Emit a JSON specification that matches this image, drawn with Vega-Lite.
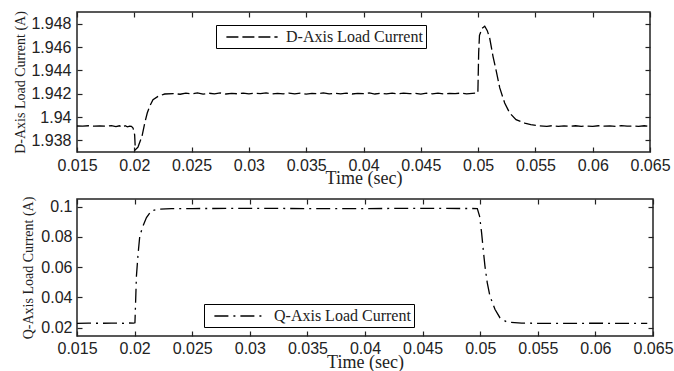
{
  "$schema": "https://vega.github.io/schema/vega-lite/v6.json",
  "background": "white",
  "padding": {"left": 13, "top": 9, "right": 5, "bottom": 0},
  "spacing": 7,
  "resolve": {"scale": {"strokeDash": "independent", "x": "independent", "y": "independent"}, "legend": {"strokeDash": "independent"}},
  "config": {
    "view": {"stroke": "#222", "strokeWidth": 1.5},
    "axis": {"grid": false, "domain": false, "tickColor": "#222", "tickSize": -5, "tickWidth": 1.2, "labelFont": "Liberation Sans", "labelFontSize": 16, "labelColor": "#222", "titleFont": "Liberation Serif", "titleFontWeight": "normal", "titleColor": "#222", "labelFlush": false, "labelOverlap": false},
    "legend": {"orient": "none", "strokeColor": "black", "fillColor": "white", "padding": 3, "symbolType": "M-3.2,0H3.2", "symbolStrokeColor": "black", "symbolStrokeWidth": 1.3, "symbolSize": 256, "symbolOffset": 24, "labelOffset": 25, "labelFont": "Liberation Serif", "labelFontSize": 16, "labelColor": "#222", "title": null, "cornerRadius": 0}
  },
  "datasets": {
    "d": [
      {"t": 0.0150, "i": 1.93923}, {"t": 0.0155, "i": 1.93922}, {"t": 0.0160, "i": 1.93925}, {"t": 0.0165, "i": 1.93921},
      {"t": 0.0170, "i": 1.93924}, {"t": 0.0175, "i": 1.93922}, {"t": 0.0180, "i": 1.93926}, {"t": 0.0184, "i": 1.93918},
      {"t": 0.0187, "i": 1.93925}, {"t": 0.0190, "i": 1.93912}, {"t": 0.0192, "i": 1.93925}, {"t": 0.0194, "i": 1.93915},
      {"t": 0.0196, "i": 1.93922}, {"t": 0.01975, "i": 1.93920}, {"t": 0.01989, "i": 1.93906}, {"t": 0.02003, "i": 1.93848},
      {"t": 0.02009, "i": 1.93719}, {"t": 0.02032, "i": 1.93742}, {"t": 0.02067, "i": 1.93834}, {"t": 0.02091, "i": 1.93948},
      {"t": 0.02113, "i": 1.94034}, {"t": 0.02134, "i": 1.94092}, {"t": 0.02163, "i": 1.94148}, {"t": 0.02207, "i": 1.94177},
      {"t": 0.02265, "i": 1.94197}, {"t": 0.0234, "i": 1.94201}, {"t": 0.0240, "i": 1.94195}, {"t": 0.0245, "i": 1.94205},
      {"t": 0.0250, "i": 1.94198}, {"t": 0.0255, "i": 1.94206}, {"t": 0.0260, "i": 1.94196}, {"t": 0.0265, "i": 1.94204},
      {"t": 0.0270, "i": 1.94199}, {"t": 0.0275, "i": 1.94207}, {"t": 0.0280, "i": 1.94197}, {"t": 0.0285, "i": 1.94203},
      {"t": 0.0290, "i": 1.94199}, {"t": 0.0295, "i": 1.94205}, {"t": 0.0300, "i": 1.94198}, {"t": 0.0305, "i": 1.94204},
      {"t": 0.0310, "i": 1.94200}, {"t": 0.0315, "i": 1.94206}, {"t": 0.0320, "i": 1.94197}, {"t": 0.0325, "i": 1.94203},
      {"t": 0.0330, "i": 1.94198}, {"t": 0.0335, "i": 1.94205}, {"t": 0.0340, "i": 1.94199}, {"t": 0.0345, "i": 1.94204},
      {"t": 0.0350, "i": 1.94196}, {"t": 0.0355, "i": 1.94203}, {"t": 0.0360, "i": 1.94200}, {"t": 0.0365, "i": 1.94207},
      {"t": 0.0370, "i": 1.94198}, {"t": 0.0375, "i": 1.94204}, {"t": 0.0380, "i": 1.94199}, {"t": 0.0385, "i": 1.94205},
      {"t": 0.0390, "i": 1.94197}, {"t": 0.0395, "i": 1.94203}, {"t": 0.0400, "i": 1.94200}, {"t": 0.0405, "i": 1.94206},
      {"t": 0.0410, "i": 1.94197}, {"t": 0.0415, "i": 1.94203}, {"t": 0.0420, "i": 1.94199}, {"t": 0.0425, "i": 1.94205},
      {"t": 0.0430, "i": 1.94198}, {"t": 0.0435, "i": 1.94204}, {"t": 0.0440, "i": 1.94200}, {"t": 0.0445, "i": 1.94203},
      {"t": 0.0450, "i": 1.94196}, {"t": 0.0455, "i": 1.94204}, {"t": 0.0460, "i": 1.94199}, {"t": 0.0465, "i": 1.94205},
      {"t": 0.0470, "i": 1.94198}, {"t": 0.0475, "i": 1.94203}, {"t": 0.0480, "i": 1.94200}, {"t": 0.0485, "i": 1.94205},
      {"t": 0.0490, "i": 1.94199}, {"t": 0.0495, "i": 1.94203}, {"t": 0.04998, "i": 1.94206}, {"t": 0.05005, "i": 1.94550},
      {"t": 0.05012, "i": 1.94700}, {"t": 0.05035, "i": 1.94760}, {"t": 0.05058, "i": 1.94778}, {"t": 0.05080, "i": 1.94740},
      {"t": 0.05101, "i": 1.94677}, {"t": 0.05130, "i": 1.94520}, {"t": 0.05159, "i": 1.94392}, {"t": 0.05189, "i": 1.94249},
      {"t": 0.05232, "i": 1.94120}, {"t": 0.05276, "i": 1.94034}, {"t": 0.05331, "i": 1.93977}, {"t": 0.05407, "i": 1.93948},
      {"t": 0.05460, "i": 1.93935}, {"t": 0.05523, "i": 1.93925}, {"t": 0.0560, "i": 1.93920}, {"t": 0.0565, "i": 1.93926},
      {"t": 0.0570, "i": 1.93919}, {"t": 0.0575, "i": 1.93924}, {"t": 0.0580, "i": 1.93921}, {"t": 0.0585, "i": 1.93925},
      {"t": 0.0590, "i": 1.93920}, {"t": 0.0595, "i": 1.93923}, {"t": 0.0600, "i": 1.93919}, {"t": 0.0605, "i": 1.93925},
      {"t": 0.0610, "i": 1.93921}, {"t": 0.0615, "i": 1.93924}, {"t": 0.0620, "i": 1.93920}, {"t": 0.0625, "i": 1.93926},
      {"t": 0.0630, "i": 1.93921}, {"t": 0.0635, "i": 1.93923}, {"t": 0.0640, "i": 1.93919}, {"t": 0.0645, "i": 1.93925},
      {"t": 0.0648, "i": 1.93922}
    ],
    "q": [
      {"t": 0.0150, "i": 0.0229}, {"t": 0.0160, "i": 0.0230}, {"t": 0.0170, "i": 0.0229}, {"t": 0.0180, "i": 0.0230},
      {"t": 0.0190, "i": 0.0229}, {"t": 0.0195, "i": 0.0231}, {"t": 0.0199, "i": 0.0230}, {"t": 0.02003, "i": 0.0232},
      {"t": 0.02016, "i": 0.0542}, {"t": 0.0203, "i": 0.0685}, {"t": 0.02045, "i": 0.0806}, {"t": 0.02073, "i": 0.0872},
      {"t": 0.02103, "i": 0.0927}, {"t": 0.02146, "i": 0.0972}, {"t": 0.02203, "i": 0.0983}, {"t": 0.0232, "i": 0.0987},
      {"t": 0.0250, "i": 0.0987}, {"t": 0.0300, "i": 0.0988}, {"t": 0.0350, "i": 0.0987}, {"t": 0.0400, "i": 0.0987},
      {"t": 0.0450, "i": 0.0988}, {"t": 0.04975, "i": 0.0987}, {"t": 0.04995, "i": 0.0935}, {"t": 0.05012, "i": 0.0828},
      {"t": 0.05026, "i": 0.0718}, {"t": 0.05041, "i": 0.0608}, {"t": 0.05061, "i": 0.0498}, {"t": 0.05084, "i": 0.0410},
      {"t": 0.05128, "i": 0.0322}, {"t": 0.05171, "i": 0.0266}, {"t": 0.05229, "i": 0.0238}, {"t": 0.0536, "i": 0.0230},
      {"t": 0.0550, "i": 0.0229}, {"t": 0.0570, "i": 0.0228}, {"t": 0.0590, "i": 0.0229}, {"t": 0.0605, "i": 0.0230},
      {"t": 0.0610, "i": 0.0228}, {"t": 0.0625, "i": 0.0229}, {"t": 0.0645, "i": 0.0229}
    ]
  },
  "vconcat": [
    {
      "width": 573,
      "height": 140,
      "data": {"name": "d"},
      "layer": [
        {
          "mark": {"type": "line", "strokeWidth": 1.3, "color": "black"},
          "encoding": {
            "x": {"field": "t", "type": "quantitative", "scale": {"domain": [0.015, 0.065], "nice": false, "zero": false},
              "axis": {"orient": "bottom", "values": [0.015, 0.02, 0.025, 0.03, 0.035, 0.04, 0.045, 0.05, 0.055, 0.06, 0.065], "format": "~g", "labelPadding": 10, "title": "Time (sec)", "titleFontSize": 18, "titlePadding": -4}},
            "y": {"field": "i", "type": "quantitative", "scale": {"domain": [1.937, 1.949], "nice": false, "zero": false},
              "axis": {"orient": "left", "values": [1.938, 1.94, 1.942, 1.944, 1.946, 1.948], "format": "~g", "labelPadding": 11, "title": "D-Axis Load Current (A)", "titleFontSize": 14, "titlePadding": 3}},
            "strokeDash": {"datum": "D-Axis Load Current", "scale": {"range": [[12, 4]]},
              "legend": {"legendX": 139, "legendY": 13, "labelExpr": "datum.label + ' '"}}
          }
        },
        {
          "mark": {"type": "line", "opacity": 0},
          "encoding": {
            "x": {"field": "t", "type": "quantitative", "axis": {"orient": "top", "values": [0.015, 0.02, 0.025, 0.03, 0.035, 0.04, 0.045, 0.05, 0.055, 0.06, 0.065], "labels": false, "title": null}},
            "y": {"field": "i", "type": "quantitative", "axis": {"orient": "right", "values": [1.938, 1.94, 1.942, 1.944, 1.946, 1.948], "labels": false, "title": null}}
          }
        }
      ]
    },
    {
      "width": 576,
      "height": 137,
      "data": {"name": "q"},
      "layer": [
        {
          "mark": {"type": "line", "strokeWidth": 1.3, "color": "black"},
          "encoding": {
            "x": {"field": "t", "type": "quantitative", "scale": {"domain": [0.015, 0.065], "nice": false, "zero": false},
              "axis": {"orient": "bottom", "values": [0.015, 0.02, 0.025, 0.03, 0.035, 0.04, 0.045, 0.05, 0.055, 0.06, 0.065], "format": "~g", "labelPadding": 9, "title": "Time (sec)", "titleFontSize": 18, "titlePadding": -3}},
            "y": {"field": "i", "type": "quantitative", "scale": {"domain": [0.0145, 0.105], "nice": false, "zero": false},
              "axis": {"orient": "left", "values": [0.02, 0.04, 0.06, 0.08, 0.1], "format": "~g", "labelPadding": 10, "title": "Q-Axis Load Current (A)", "titleFontSize": 14, "titlePadding": 5}},
            "strokeDash": {"datum": "Q-Axis Load Current", "scale": {"range": [[14, 5, 2, 5]]},
              "legend": {"legendX": 127, "legendY": 105, "labelExpr": "datum.label + ' '"}}
          }
        },
        {
          "mark": {"type": "line", "opacity": 0},
          "encoding": {
            "x": {"field": "t", "type": "quantitative", "axis": {"orient": "top", "values": [0.015, 0.02, 0.025, 0.03, 0.035, 0.04, 0.045, 0.05, 0.055, 0.06, 0.065], "labels": false, "title": null}},
            "y": {"field": "i", "type": "quantitative", "axis": {"orient": "right", "values": [0.02, 0.04, 0.06, 0.08, 0.1], "labels": false, "title": null}}
          }
        }
      ]
    }
  ]
}
